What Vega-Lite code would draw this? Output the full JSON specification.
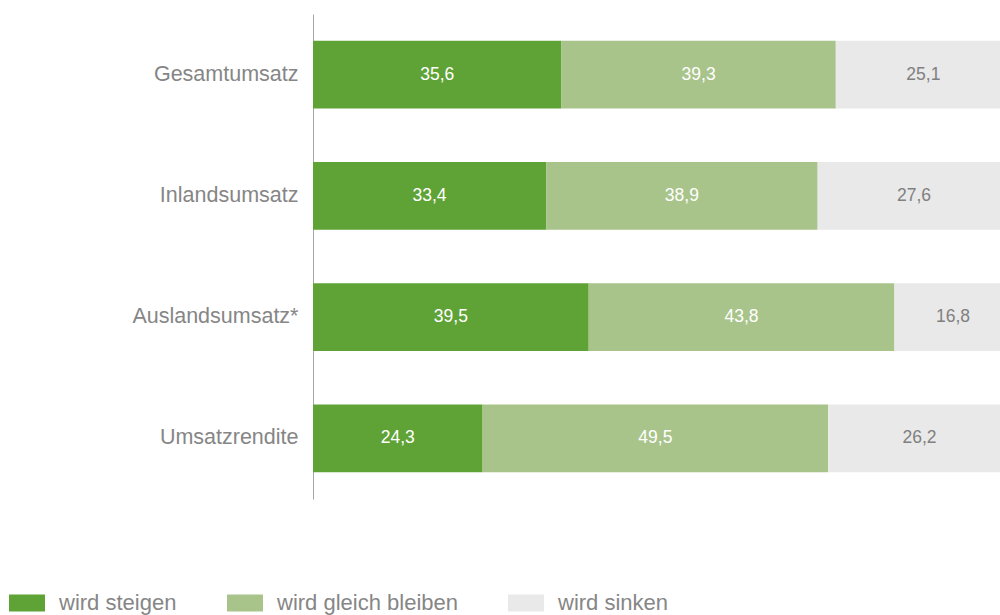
{
  "$schema": "https://vega.github.io/schema/vega-lite/v6.json",
  "autosize": {"type": "none"},
  "padding": {"left": 313, "top": 14, "right": 0, "bottom": 116},
  "width": 698,
  "height": 485,
  "background": "white",
  "config": {
    "view": {"stroke": null},
    "font": "Liberation Sans",
    "locale": {"number": {"decimal": ",", "thousands": ".", "grouping": [3], "currency": ["", " €"]}}
  },
  "data": {
    "values": [
      {"kategorie": "Gesamtumsatz", "serie": "wird steigen", "ord": 1, "wert": 35.6},
      {"kategorie": "Gesamtumsatz", "serie": "wird gleich bleiben", "ord": 2, "wert": 39.3},
      {"kategorie": "Gesamtumsatz", "serie": "wird sinken", "ord": 3, "wert": 25.1},
      {"kategorie": "Inlandsumsatz", "serie": "wird steigen", "ord": 1, "wert": 33.4},
      {"kategorie": "Inlandsumsatz", "serie": "wird gleich bleiben", "ord": 2, "wert": 38.9},
      {"kategorie": "Inlandsumsatz", "serie": "wird sinken", "ord": 3, "wert": 27.6},
      {"kategorie": "Auslandsumsatz*", "serie": "wird steigen", "ord": 1, "wert": 39.5},
      {"kategorie": "Auslandsumsatz*", "serie": "wird gleich bleiben", "ord": 2, "wert": 43.8},
      {"kategorie": "Auslandsumsatz*", "serie": "wird sinken", "ord": 3, "wert": 16.8},
      {"kategorie": "Umsatzrendite", "serie": "wird steigen", "ord": 1, "wert": 24.3},
      {"kategorie": "Umsatzrendite", "serie": "wird gleich bleiben", "ord": 2, "wert": 49.5},
      {"kategorie": "Umsatzrendite", "serie": "wird sinken", "ord": 3, "wert": 26.2}
    ]
  },
  "encoding": {
    "y": {
      "field": "kategorie", "type": "nominal",
      "sort": ["Gesamtumsatz", "Inlandsumsatz", "Auslandsumsatz*", "Umsatzrendite"],
      "scale": {"paddingInner": 0.44},
      "axis": {
        "title": null, "ticks": false, "labelFontSize": 21.5, "labelColor": "#868686",
        "labelPadding": 15, "domainColor": "#a6a6a6", "domainWidth": 1, "grid": false
      }
    }
  },
  "layer": [
    {
      "mark": {"type": "bar"},
      "encoding": {
        "x": {"field": "wert", "type": "quantitative", "stack": "zero", "scale": {"domain": [0, 100], "nice": false}, "axis": null},
        "order": {"field": "ord", "type": "quantitative"},
        "color": {
          "field": "serie", "type": "nominal",
          "scale": {"domain": ["wird steigen", "wird gleich bleiben", "wird sinken"], "range": ["#5fa336", "#a9c48a", "#e9e9e9"]},
          "legend": {
            "title": null, "orient": "none", "direction": "horizontal", "legendX": -304, "legendY": 571,
            "padding": 0, "symbolType": "M-1,-0.472H1V0.472H-1Z", "symbolSize": 1296, "symbolStrokeWidth": 0,
            "symbolOpacity": 1, "labelFontSize": 22, "labelColor": "#868686", "labelOffset": 14,
            "columnPadding": 50, "labelLimit": 400
          }
        }
      }
    },
    {
      "mark": {"type": "text", "fontSize": 17.5, "baseline": "middle", "align": "center"},
      "encoding": {
        "x": {"field": "wert", "type": "quantitative", "stack": "zero", "bandPosition": 0.5},
        "order": {"field": "ord", "type": "quantitative"},
        "detail": {"field": "serie", "type": "nominal"},
        "text": {"field": "wert", "type": "quantitative", "format": ".1f"},
        "color": {"condition": {"test": "datum.serie === 'wird sinken'", "value": "#808080"}, "value": "#ffffff"}
      }
    }
  ]
}
